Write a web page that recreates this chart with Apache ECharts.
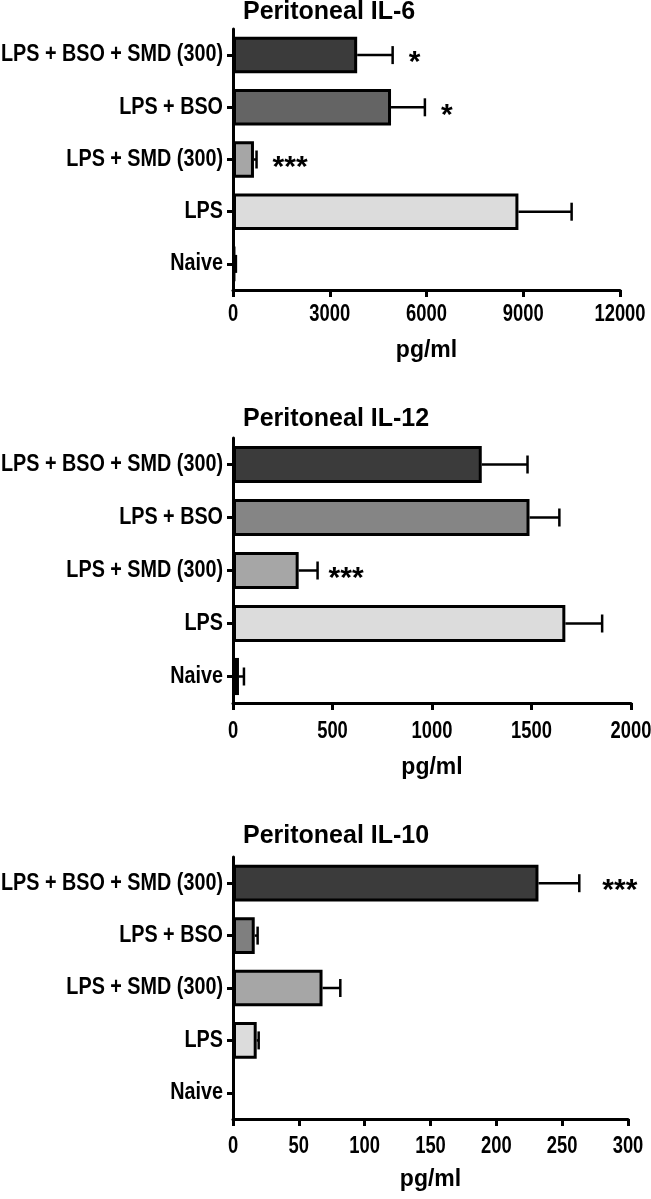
<!DOCTYPE html>
<html>
<head>
<meta charset="utf-8">
<script src="https://cdn.jsdelivr.net/npm/echarts@6/dist/echarts.min.js"></script>
<style>
html,body{margin:0;padding:0;background:#fff;}
#chart{width:651px;height:1199px;}
</style>
</head>
<body>
<div id="chart"></div>
<script>
// Categories (bottom to top, as drawn by a category y axis)
const categories = ['Naive', 'LPS', 'LPS + SMD (300)', 'LPS + BSO', 'LPS + BSO + SMD (300)'];

// Peritoneal IL-6 (pg/ml): mean and upper error (SEM)
const il6Mean = [60, 8850, 650, 4900, 3850];
const il6Err  = [30, 1650, 80, 1050, 1100];
const il6Sig  = ['', '', '***', '*', '*'];
const il6Ticks = [0, 3000, 6000, 9000, 12000];

// Peritoneal IL-12 (pg/ml)
const il12Mean = [30, 1670, 330, 1490, 1250];
const il12Err  = [25, 185, 95, 150, 230];
const il12Sig  = ['', '', '***', '', ''];
const il12Ticks = [0, 500, 1000, 1500, 2000];

// Peritoneal IL-10 (pg/ml)
const il10Mean = [0, 18, 68, 16.5, 232];
const il10Err  = [0, 1.5, 13.5, 2.2, 31];
const il10Sig  = ['', '', '', '', '***'];
const il10Ticks = [0, 50, 100, 150, 200, 250, 300];

const titles = ['Peritoneal IL-6', 'Peritoneal IL-12', 'Peritoneal IL-10'];
const unitLabel = 'pg/ml';

// ---------- styles ----------
const REG = "'Liberation Sans', Arial, sans-serif";
const fills = [
  ['#111111', '#dcdcdc', '#a6a6a6', '#646464', '#3b3b3b'],
  ['#ffffff', '#dcdcdc', '#a6a6a6', '#858585', '#3b3b3b'],
  ['#ffffff', '#dcdcdc', '#a6a6a6', '#7f7f7f', '#3b3b3b']
];
const grids = [
  {left: 233, top: 29, width: 387, height: 261},
  {left: 233, top: 438, width: 398, height: 265},
  {left: 233, top: 857, width: 395, height: 262}
];
const titleTops = [0, 407, 824];
const starGap = [16, 11, 23];
const nameGaps = [49, 53, 49];
const tickLabelOffsets = [25, 29, 28];

const means = [il6Mean, il12Mean, il10Mean];
const errs = [il6Err, il12Err, il10Err];
const sigs = [il6Sig, il12Sig, il10Sig];
const ticks = [il6Ticks, il12Ticks, il10Ticks];

const option = {
  animation: false,
  backgroundColor: '#ffffff',
  title: titles.map((t, i) => ({
    text: t, left: 243, top: titleTops[i], padding: 0,
    textStyle: {fontFamily: REG, fontWeight: 'bold', fontSize: 25, color: '#000'}
  })),
  grid: grids.map(g => Object.assign({outerBoundsMode: 'none', containLabel: false}, g)),
  xAxis: ticks.map((t, i) => ({
    type: 'value', gridIndex: i, min: t[0], max: t[t.length - 1], interval: t[1] - t[0],
    name: unitLabel, nameLocation: 'middle', nameGap: nameGaps[i],
    nameTextStyle: {fontFamily: REG, fontWeight: 'bold', fontSize: 23, color: '#000'},
    axisLine: {show: true, lineStyle: {color: '#000', width: 3}},
    axisTick: {show: true, length: 7, lineStyle: {color: '#000', width: 3}},
    axisLabel: {show: false},
    splitLine: {show: false}
  })),
  yAxis: ticks.map((t, i) => ({
    type: 'category', gridIndex: i, data: categories,
    axisLine: {show: true, lineStyle: {color: '#000', width: 3}},
    axisTick: {show: true, alignWithLabel: true, length: 6, lineStyle: {color: '#000', width: 3}},
    axisLabel: {show: false},
    splitLine: {show: false}
  })),
  series: []
};

means.forEach((m, i) => {
  // bars
  option.series.push({
    type: 'bar', xAxisIndex: i, yAxisIndex: i, barCategoryGap: '30%',
    data: m.map((v, k) => ({
      value: v,
      itemStyle: {color: fills[i][k], borderColor: '#000', borderWidth: v > 0 ? 3 : 0}
    })),
    z: 2
  });
  // error bars (upper SEM)
  option.series.push({
    type: 'custom', xAxisIndex: i, yAxisIndex: i, z: 3,
    data: m.map((v, k) => [v, k, errs[i][k]]),
    renderItem: function (params, api) {
      const mean = api.value(0), cat = api.value(1), e = api.value(2);
      if (!(e > 0)) return null;
      const p0 = api.coord([mean, cat]);
      const p1 = api.coord([mean + e, cat]);
      const half = 9;
      return {
        type: 'group',
        children: [
          {type: 'line', shape: {x1: p0[0], y1: p0[1], x2: p1[0], y2: p1[1]},
           style: {stroke: '#000', lineWidth: 2.5}},
          {type: 'line', shape: {x1: p1[0], y1: p1[1] - half, x2: p1[0], y2: p1[1] + half},
           style: {stroke: '#000', lineWidth: 2.5}}
        ]
      };
    }
  });
  // significance stars
  option.series.push({
    type: 'custom', xAxisIndex: i, yAxisIndex: i, z: 4,
    data: m.map((v, k) => [v + errs[i][k], k]),
    renderItem: function (params, api) {
      const s = sigs[i][params.dataIndex];
      if (!s) return null;
      const p = api.coord([api.value(0), api.value(1)]);
      return {
        type: 'text',
        style: {
          x: p[0] + starGap[i], y: p[1] + 8, text: s,
          fill: '#000', font: 'bold 30px ' + REG,
          textAlign: 'left', textVerticalAlign: 'middle'
        }
      };
    }
  });
  // category labels (condensed bold, at the category axis positions)
  option.series.push({
    type: 'custom', xAxisIndex: i, yAxisIndex: i, z: 5, clip: false,
    data: categories.map((c, k) => [0, k]),
    renderItem: function (params, api) {
      const p = api.coord([0, api.value(1)]);
      return {
        type: 'text',
        x: p[0] - 10, y: p[1], scaleX: 0.86, scaleY: 1,
        style: {
          x: 0, y: 0, text: categories[params.dataIndex],
          fill: '#000', font: 'bold 23px ' + REG,
          textAlign: 'right', textVerticalAlign: 'middle'
        }
      };
    }
  });
  // value-axis tick labels (condensed bold, at the value axis positions)
  option.series.push({
    type: 'custom', xAxisIndex: i, yAxisIndex: i, z: 5, clip: false,
    data: ticks[i].map(v => [v, 0]),
    renderItem: function (params, api) {
      const p = api.coord([api.value(0), 0]);
      const yb = grids[i].top + grids[i].height + tickLabelOffsets[i];
      return {
        type: 'text',
        x: p[0], y: yb, scaleX: 0.8, scaleY: 1,
        style: {
          x: 0, y: 0, text: String(ticks[i][params.dataIndex]),
          fill: '#000', font: 'bold 23px ' + REG,
          textAlign: 'center', textVerticalAlign: 'middle'
        }
      };
    }
  });
});

const chart = echarts.init(document.getElementById('chart'), null, {renderer: 'canvas'});
chart.setOption(option);
</script>
</body>
</html>
